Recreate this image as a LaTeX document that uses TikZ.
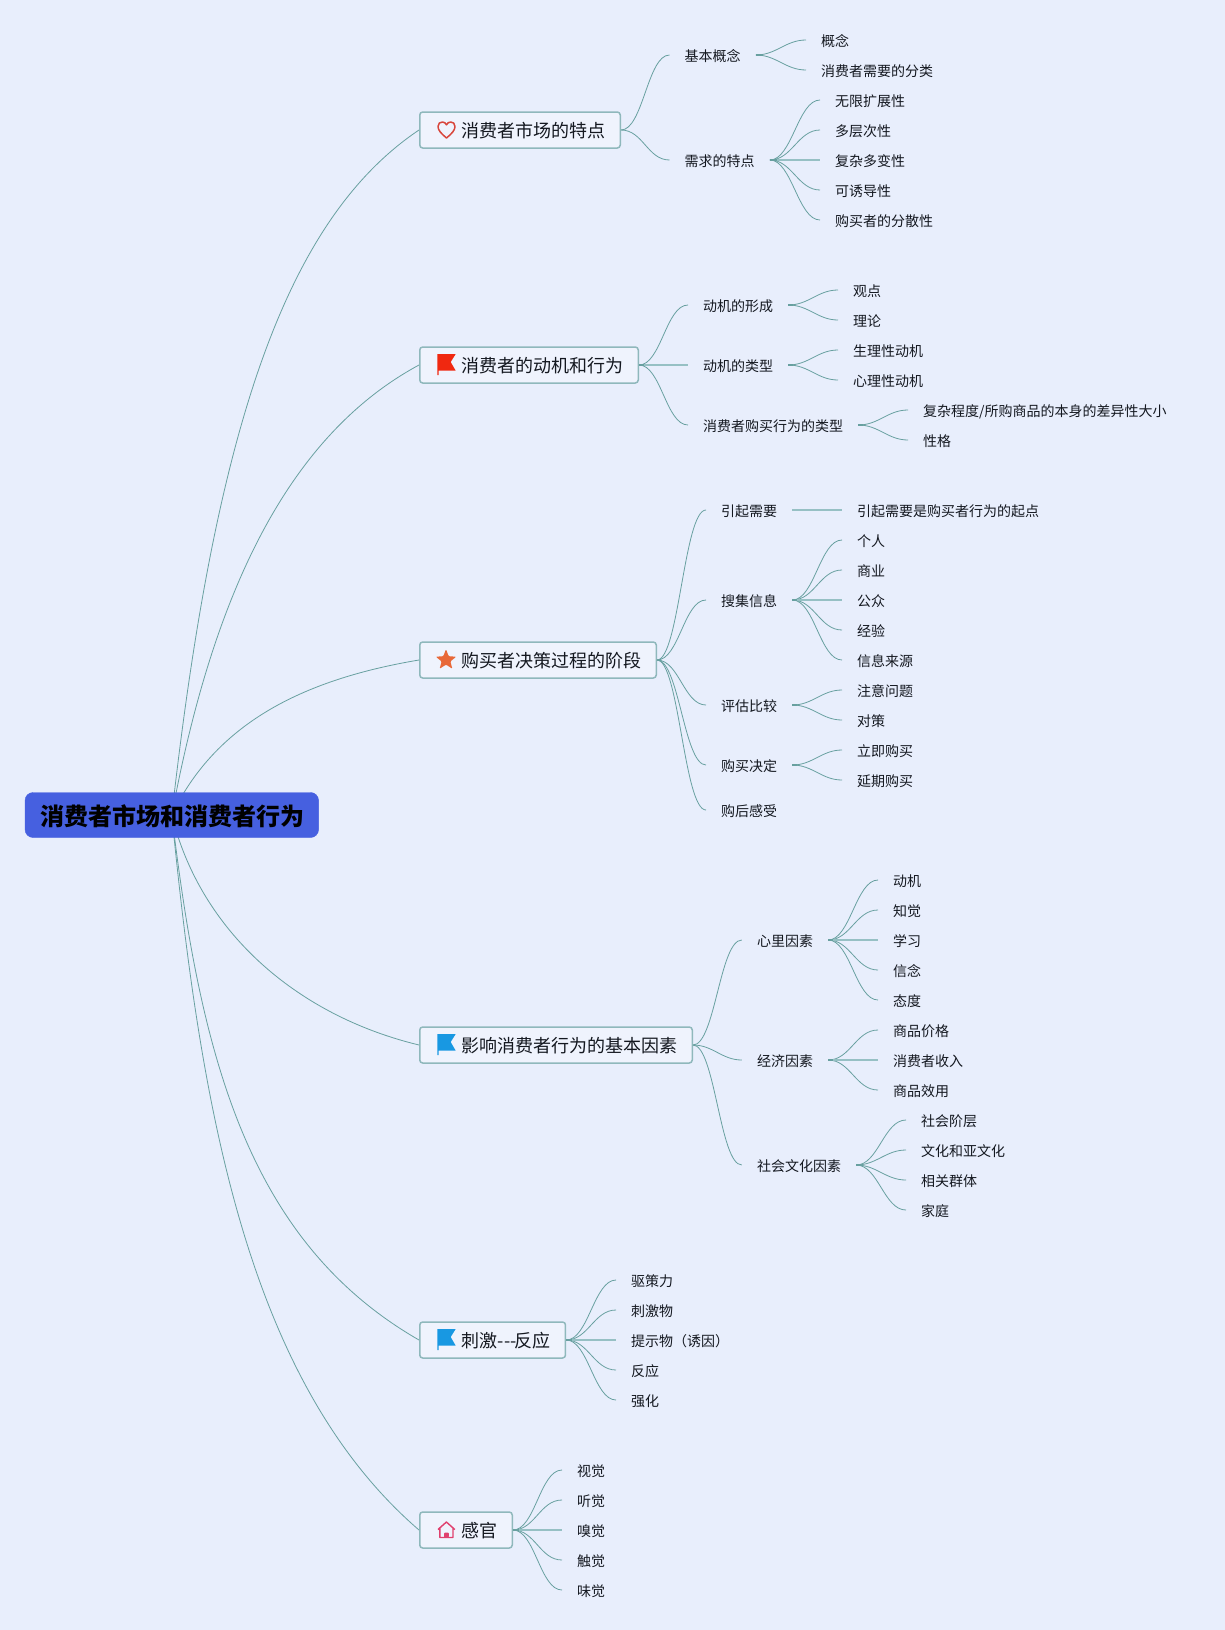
\documentclass[tikz,border=0pt]{standalone}
\usepackage{fontspec}
\setmainfont{Noto Sans CJK SC}
\usetikzlibrary{backgrounds}

\definecolor{pagec}{RGB}{232,238,252}
\definecolor{rootc}{RGB}{70,96,224}
\definecolor{boxc}{RGB}{143,184,188}
\definecolor{linkc}{RGB}{104,160,160}
\definecolor{flatc}{RGB}{150,192,196}
\definecolor{inkc}{RGB}{20,24,32}
\definecolor{redflagc}{RGB}{240,40,16}
\definecolor{blueflagc}{RGB}{24,152,226}
\definecolor{starc}{RGB}{232,104,56}
\definecolor{heartc}{RGB}{216,70,60}
\definecolor{housec}{RGB}{224,64,110}

\tikzset{
    rootbox/.style={draw=rootc, fill=rootc, rounded corners=8pt, minimum width=293.5pt,
        minimum height=45pt, inner sep=0pt, text=black, text height=24pt, text depth=4pt,
        font=\fontsize{24}{28}\selectfont\bfseries},
    topicbox/.style={draw=boxc, fill=pagec!70!white, line width=1.5pt, rounded corners=3pt,
        anchor=west, minimum height=36pt, inner xsep=14.5pt, inner ysep=0pt, text=inkc,
        text height=18.5pt, text depth=3pt, font=\fontsize{18}{22}\selectfont},
    leaf/.style={anchor=west, inner xsep=15pt, inner ysep=0pt, text=inkc,
        text height=15.8pt, text depth=2.2pt, font=\fontsize{14}{17}\selectfont},
    link/.style={draw=linkc, line width=0.8pt,
        every edge/.style={draw, out=0, in=180, max distance=22pt}},
    flat/.style={draw=flatc, line width=1.4pt},
    stub/.style={draw=linkc, line width=1.6pt},
    flagicon/.pic={
        \fill[#1] (18.3,-11) -- (36.7,-11) -- (31.7,-3) -- (36.7,5.7) -- (19.6,5.7)
            -- (19.6,10) -- (18.3,10) -- cycle;
    },
    hearticon/.pic={
        \draw[heartc, line width=1.5pt, line join=round] (27.5,8) .. controls (22,3.5) and (19,0) .. (19,-3.5)
            .. controls (19,-6.5) and (21,-8) .. (23.3,-8) .. controls (25,-8) and (26.8,-7) .. (27.5,-5.2)
            .. controls (28.2,-7) and (30,-8) .. (31.7,-8) .. controls (34,-8) and (36,-6.5) .. (36,-3.5)
            .. controls (36,0) and (33,3.5) .. (27.5,8) -- cycle;
    },
    staricon/.pic={
        \fill[starc, rounded corners=1pt, xshift=27pt] (90:10.8pt) -- (126:4.6pt) -- (162:10.8pt)
            -- (198:4.6pt) -- (234:10.8pt) -- (270:4.6pt) -- (306:10.8pt) -- (342:4.6pt)
            -- (18:10.8pt) -- (54:4.6pt) -- cycle;
    },
    houseicon/.pic={
        \draw[housec, line width=1.4pt, line join=round] (19,-0.5) -- (27.4,-8) -- (35.8,-0.5)
            (20.8,-1.5) -- (20.8,7.5) -- (34,7.5) -- (34,-1.5);
        \fill[housec, rounded corners=1pt] (25,7.5) -- (25,2.5) -- (29.8,2.5) -- (29.8,7.5) -- cycle;
    }
}

\begin{document}
\begin{tikzpicture}[x=1pt, y=-1pt]
    \useasboundingbox (0,0) rectangle (1225,1630);

    %Draw the root
    \node[rootbox] (root) at (171.8,815) {\hspace*{1pt}消费者市场和消费者行为};

    %Draw the topic boxes
    \node[topicbox] (market) at (419,130) {\hspace*{27.5pt}消费者市场的特点};
    \node[topicbox] (motive) at (419,365) {\hspace*{27.5pt}消费者的动机和行为};
    \node[topicbox] (decide) at (419,660) {\hspace*{27.5pt}购买者决策过程的阶段};
    \node[topicbox] (factor) at (419,1045) {\hspace*{27.5pt}影响消费者行为的基本因素};
    \node[topicbox] (stimulus) at (419,1340) {\hspace*{27.5pt}刺激-{}-{}-\kern-1.5pt反应};
    \node[topicbox] (senses) at (419,1530) {\hspace*{27.5pt}感官};

    %Draw the icons
    \pic at (market.west) {hearticon};
    \pic at (motive.west) {flagicon=redflagc};
    \pic at (decide.west) {staricon};
    \pic at (factor.west) {flagicon=blueflagc};
    \pic at (stimulus.west) {flagicon=blueflagc};
    \pic at (senses.west) {houseicon};

    %Draw the market branch
    \node[leaf] (basics) at (669.5,55) {基本概念};
    \node[leaf] (needs) at (669.5,160) {需求的特点};
    \node[leaf] (concept) at (806,40) {概念};
    \node[leaf] (kinds) at (806,70) {消费者需要的分类};
    \node[leaf] (endless) at (820,100) {无限扩展性};
    \node[leaf] (layers) at (820,130) {多层次性};
    \node[leaf] (complex) at (820,160) {复杂多变性};
    \node[leaf] (guided) at (820,190) {可诱导性};
    \node[leaf] (scatter) at (820,220) {购买者的分散性};

    %Draw the motive branch
    \node[leaf] (forming) at (688,305) {动机的形成};
    \node[leaf] (mtypes) at (688,365) {动机的类型};
    \node[leaf] (btypes) at (688,425) {消费者购买行为的类型};
    \node[leaf] (view) at (838,290) {观点};
    \node[leaf] (theory) at (838,320) {理论};
    \node[leaf] (body) at (838,350) {生理性动机};
    \node[leaf] (mind) at (838,380) {心理性动机};
    \node[leaf] (degree) at (908,410) {复杂程度/所购商品的本身的差异性大小};
    \node[leaf] (nature) at (908,440) {性格};

    %Draw the decision branch
    \node[leaf] (arouse) at (706,510) {引起需要};
    \node[leaf] (search) at (706,600) {搜集信息};
    \node[leaf] (assess) at (706,705) {评估比较};
    \node[leaf] (purchase) at (706,765) {购买决定};
    \node[leaf] (after) at (706,810) {购后感受};
    \node[leaf] (start) at (842,510) {引起需要是购买者行为的起点};
    \node[leaf] (person) at (842,540) {个人};
    \node[leaf] (trade) at (842,570) {商业};
    \node[leaf] (public) at (842,600) {公众};
    \node[leaf] (trial) at (842,630) {经验};
    \node[leaf] (source) at (842,660) {信息来源};
    \node[leaf] (issue) at (842,690) {注意问题};
    \node[leaf] (answer) at (842,720) {对策};
    \node[leaf] (atonce) at (842,750) {立即购买};
    \node[leaf] (delay) at (842,780) {延期购买};

    %Draw the factor branch
    \node[leaf] (psych) at (741.8,940) {心里因素};
    \node[leaf] (money) at (741.8,1060) {经济因素};
    \node[leaf] (culture) at (741.8,1165) {社会文化因素};
    \node[leaf] (drive) at (878,880) {动机};
    \node[leaf] (sense) at (878,910) {知觉};
    \node[leaf] (learn) at (878,940) {学习};
    \node[leaf] (belief) at (878,970) {信念};
    \node[leaf] (attitude) at (878,1000) {态度};
    \node[leaf] (price) at (878,1030) {商品价格};
    \node[leaf] (income) at (878,1060) {消费者收入};
    \node[leaf] (utility) at (878,1090) {商品效用};
    \node[leaf] (klass) at (906,1120) {社会阶层};
    \node[leaf] (subcult) at (906,1150) {文化和亚文化};
    \node[leaf] (group) at (906,1180) {相关群体};
    \node[leaf] (family) at (906,1210) {家庭};

    %Draw the stimulus branch
    \node[leaf] (force) at (616,1280) {驱策力};
    \node[leaf] (stim) at (616,1310) {刺激物};
    \node[leaf] (cue) at (616,1340) {提示物（诱因）};
    \node[leaf] (react) at (616,1370) {反应};
    \node[leaf] (boost) at (616,1400) {强化};

    %Draw the senses branch
    \node[leaf] (sight) at (562,1470) {视觉};
    \node[leaf] (hear) at (562,1500) {听觉};
    \node[leaf] (smell) at (562,1530) {嗅觉};
    \node[leaf] (touch) at (562,1560) {触觉};
    \node[leaf] (taste) at (562,1590) {味觉};

    %Draw the fans between the nodes
    \path[link] (market.east) edge (basics.west) edge (needs.west);
    \path[link] (basics.east) edge (concept.west) edge (kinds.west);
    \path[link] (needs.east) edge (endless.west) edge (layers.west) edge (guided.west) edge (scatter.west);
    \path[link] (motive.east) edge (forming.west) edge (btypes.west);
    \path[link] (forming.east) edge (view.west) edge (theory.west);
    \path[link] (mtypes.east) edge (body.west) edge (mind.west);
    \path[link] (btypes.east) edge (degree.west) edge (nature.west);
    \path[link] (decide.east) edge (arouse.west) edge (search.west) edge (assess.west) edge (purchase.west) edge (after.west);
    \path[link] (search.east) edge (person.west) edge (trade.west) edge (trial.west) edge (source.west);
    \path[link] (assess.east) edge (issue.west) edge (answer.west);
    \path[link] (purchase.east) edge (atonce.west) edge (delay.west);
    \path[link] (factor.east) edge (psych.west) edge (money.west) edge (culture.west);
    \path[link] (psych.east) edge (drive.west) edge (sense.west) edge (belief.west) edge (attitude.west);
    \path[link] (money.east) edge (price.west) edge (utility.west);
    \path[link] (culture.east) edge (klass.west) edge (subcult.west) edge (group.west) edge (family.west);
    \path[link] (stimulus.east) edge (force.west) edge (stim.west) edge (react.west) edge (boost.west);
    \path[link] (senses.east) edge (sight.west) edge (hear.west) edge (touch.west) edge (taste.west);

    %Draw the straight links
    \draw[flat] (needs.east) -- (complex.west);
    \draw[flat] (motive.east) -- (mtypes.west);
    \draw[flat] (arouse.east) -- (start.west);
    \draw[flat] (search.east) -- (public.west);
    \draw[flat] (psych.east) -- (learn.west);
    \draw[flat] (money.east) -- (income.west);
    \draw[flat] (stimulus.east) -- (cue.west);
    \draw[flat] (senses.east) -- (smell.west);

    %Draw the short stubs at each fork
    \draw[stub] (basics.east) -- +(7,0);
    \draw[stub] (needs.east) -- +(7,0);
    \draw[stub] (motive.east) -- +(5,0);
    \draw[stub] (forming.east) -- +(5,0);
    \draw[stub] (mtypes.east) -- +(5,0);
    \draw[stub] (btypes.east) -- +(5,0);
    \draw[stub] (search.east) -- +(5,0);
    \draw[stub] (assess.east) -- +(5,0);
    \draw[stub] (purchase.east) -- +(5,0);
    \draw[stub] (psych.east) -- +(5,0);
    \draw[stub] (money.east) -- +(5,0);
    \draw[stub] (culture.east) -- +(5,0);
    \draw[stub] (stimulus.east) -- +(6,0);
    \draw[stub] (senses.east) -- +(6,0);

    %Draw the page and the long curves behind everything
    \begin{scope}[on background layer]
        \fill[pagec] (0,0) rectangle (1225,1630);
        \draw[link] (root.center) .. controls (215,430) and (285,220) .. (market.west);
        \draw[link] (root.center) .. controls (210,610) and (280,440) .. (motive.west);
        \draw[link] (root.center) .. controls (215,725) and (300,680) .. (decide.west);
        \draw[link] (root.center) .. controls (200,930) and (295,1015) .. (factor.west);
        \draw[link] (root.center) .. controls (200,1050) and (245,1240) .. (stimulus.west);
        \draw[link] (root.center) .. controls (200,1100) and (245,1380) .. (senses.west);
    \end{scope}
\end{tikzpicture}
\end{document}
